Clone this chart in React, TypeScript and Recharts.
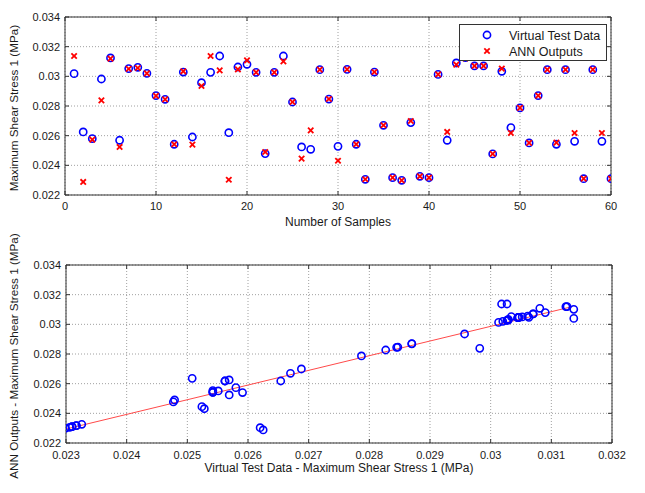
import React from 'react';
import {
  ScatterChart,
  Scatter,
  XAxis,
  YAxis,
  CartesianGrid,
  ReferenceArea,
  ReferenceLine,
  Label,
} from 'recharts';

// ---------- data ----------
const sampleNumbers = [
  1, 2, 3, 4, 5, 6, 7, 8, 9, 10, 11, 12, 13, 14, 15, 16, 17, 18, 19, 20,
  21, 22, 23, 24, 25, 26, 27, 28, 29, 30, 31, 32, 33, 34, 35, 36, 37, 38, 39, 40,
  41, 42, 43, 44, 45, 46, 47, 48, 49, 50, 51, 52, 53, 54, 55, 56, 57, 58, 59, 60,
];

const virtualTestData = [
  0.03018, 0.02625, 0.0258, 0.02982, 0.03124, 0.02569, 0.03052, 0.03061, 0.0302, 0.0287,
  0.02845, 0.02542, 0.03029, 0.02591, 0.02957, 0.03027, 0.03137, 0.0262, 0.03063, 0.03081,
  0.03027, 0.02479, 0.03027, 0.03137, 0.02827, 0.02524, 0.02508, 0.03045, 0.02847, 0.02528,
  0.03047, 0.02542, 0.02306, 0.03029, 0.0267, 0.02317, 0.02299, 0.02688, 0.02326, 0.02317,
  0.03013, 0.02569, 0.0309, 0.03126, 0.0307, 0.0307, 0.02477, 0.03034, 0.02654, 0.02787,
  0.02551, 0.0287, 0.03045, 0.02542, 0.03045, 0.02562, 0.0231, 0.03045, 0.02562, 0.0231,
];

const annOutputs = [
  0.03137, 0.02288, 0.02573, 0.02838, 0.03119, 0.02524, 0.0305, 0.03056, 0.0302, 0.02868,
  0.02845, 0.02542, 0.03034, 0.0254, 0.02935, 0.03137, 0.0304, 0.02303, 0.03047, 0.03108,
  0.03027, 0.0249, 0.03027, 0.03101, 0.02827, 0.02445, 0.02636, 0.03045, 0.02847, 0.02431,
  0.03047, 0.02542, 0.02306, 0.03029, 0.0267, 0.02317, 0.02299, 0.02699, 0.02326, 0.02317,
  0.03013, 0.02625, 0.03079, 0.0312, 0.0307, 0.0307, 0.02477, 0.03052, 0.02618, 0.02787,
  0.02551, 0.0287, 0.03045, 0.02553, 0.03045, 0.02618, 0.0231, 0.03045, 0.02618, 0.0231,
];

const sampleTicks = [0, 10, 20, 30, 40, 50, 60];
const stressTicks = [0.022, 0.024, 0.026, 0.028, 0.03, 0.032, 0.034];
const virtualTicks = [0.023, 0.024, 0.025, 0.026, 0.027, 0.028, 0.029, 0.03, 0.031, 0.032];

const fitLineX = [0.023, 0.03135];
const fitLineY = [0.02294, 0.0312];

const legendLabels = ['Virtual Test Data', 'ANN Outputs'];
const topXTitle = 'Number of Samples';
const topYTitle = 'Maximum Shear Stress 1 (MPa)';
const bottomXTitle = 'Virtual Test Data - Maximum Shear Stress 1 (MPa)';
const bottomYTitle = 'ANN Outputs - Maximum Shear Stress 1 (MPa)';

// ---------- derived tables ----------
const virtualSeries = sampleNumbers.map((n, i) => ({ n, v: virtualTestData[i] }));
const annSeries = sampleNumbers.map((n, i) => ({ n, v: annOutputs[i] }));
const pairSeries = virtualTestData.map((v, i) => ({ x: v, y: annOutputs[i] }));

// ---------- styling helpers ----------
const FONT = '"Liberation Sans", Arial, Helvetica, sans-serif';
const AXIS = '#333';
const TEXT = '#1a1a1a';
const PLOT_W = 546;
const PLOT_H = 178;

const fmt = (v: number) => String(Number(v.toPrecision(6)));

const CircleMark = (p: any) => (
  <circle cx={p.cx} cy={p.cy} r={3.6} fill="none" stroke="#0000ff" strokeWidth={1.6} />
);

const CrossMark = (p: any) => {
  const s = 2.7;
  return (
    <g stroke="#ff0000" strokeWidth={1.8}>
      <line x1={p.cx - s} y1={p.cy - s} x2={p.cx + s} y2={p.cy + s} />
      <line x1={p.cx - s} y1={p.cy + s} x2={p.cx + s} y2={p.cy - s} />
    </g>
  );
};

const makeXTick = (dy: number) => (p: any) => {
  const { x, y, payload } = p;
  return (
    <g>
      <line x1={x} x2={x} y1={y} y2={y - 4} stroke={AXIS} />
      <line x1={x} x2={x} y1={y - PLOT_H} y2={y - PLOT_H + 4} stroke={AXIS} />
      <text x={x} y={y + dy} textAnchor="middle" fontSize={11} fill={TEXT} fontFamily={FONT}>
        {fmt(payload.value)}
      </text>
    </g>
  );
};

const YTick = (p: any) => {
  const { x, y, payload } = p;
  return (
    <g>
      <line x1={x} x2={x + 4} y1={y} y2={y} stroke={AXIS} />
      <line x1={x + PLOT_W} x2={x + PLOT_W - 4} y1={y} y2={y} stroke={AXIS} />
      <text x={x - 5} y={y + 4} textAnchor="end" fontSize={11} fill={TEXT} fontFamily={FONT}>
        {fmt(payload.value)}
      </text>
    </g>
  );
};

const hTitle = (text: string, cx: number, baseline: number) => () => (
  <text x={cx} y={baseline} textAnchor="middle" fontSize={12} fill={TEXT} fontFamily={FONT}>
    {text}
  </text>
);

const vTitle = (text: string, cx: number, cy: number) => () => (
  <text
    x={cx}
    y={cy}
    textAnchor="middle"
    fontSize={11.7}
    fill={TEXT}
    fontFamily={FONT}
    transform={`rotate(-90 ${cx} ${cy})`}
  >
    {text}
  </text>
);

export default function App() {
  return (
    <div
      style={{
        position: 'absolute',
        left: 0,
        top: 0,
        width: 645,
        height: 493,
        background: '#fff',
        fontFamily: FONT,
      }}
    >
      {/* Top chart */}
      <div style={{ position: 'absolute', left: 0, top: 0 }}>
        <ScatterChart width={645} height={240} margin={{ top: 17, right: 34, bottom: 10, left: 15 }}>
          <CartesianGrid stroke="#888" strokeDasharray="1 2" strokeWidth={0.8} />
          <XAxis
            type="number"
            dataKey="n"
            domain={[0, 60]}
            ticks={sampleTicks}
            allowDataOverflow
            height={35}
            tickSize={0}
            tickMargin={0}
            tickLine={false}
            axisLine={false}
            tick={makeXTick(15)}
            interval={0}
          >
            <Label content={hTitle(topXTitle, 338, 226)} />
          </XAxis>
          <YAxis
            type="number"
            dataKey="v"
            domain={[0.022, 0.034]}
            ticks={stressTicks}
            allowDataOverflow
            width={50}
            tickSize={0}
            tickMargin={0}
            tickLine={false}
            axisLine={false}
            tick={YTick}
            interval={0}
          >
            <Label content={vTitle(topYTitle, 18, 108)} />
          </YAxis>
          <ReferenceArea x1={0} x2={60} y1={0.022} y2={0.034} fill="none" stroke={AXIS} strokeWidth={1} />
          <Scatter data={virtualSeries} shape={CircleMark} isAnimationActive={false} />
          <Scatter data={annSeries} shape={CrossMark} isAnimationActive={false} />
        </ScatterChart>
      </div>

      {/* Legend */}
      <div
        style={{
          position: 'absolute',
          left: 459,
          top: 24,
          width: 146,
          height: 35,
          border: '1px solid #333',
          background: '#fff',
          fontSize: 12.5,
          color: TEXT,
        }}
      >
        <svg width={146} height={35} style={{ position: 'absolute', left: 0, top: 0 }}>
          <circle cx={27} cy={10} r={3.6} fill="none" stroke="#0000ff" strokeWidth={1.6} />
          <g stroke="#ff0000" strokeWidth={1.8}>
            <line x1={24.3} y1={23.3} x2={29.7} y2={28.7} />
            <line x1={24.3} y1={28.7} x2={29.7} y2={23.3} />
          </g>
          <text x={49} y={14.5} fontSize={12.5} fill={TEXT} fontFamily={FONT}>
            {legendLabels[0]}
          </text>
          <text x={49} y={30.5} fontSize={12.5} fill={TEXT} fontFamily={FONT}>
            {legendLabels[1]}
          </text>
        </svg>
      </div>

      {/* Bottom chart */}
      <div style={{ position: 'absolute', left: 0, top: 220 }}>
        <ScatterChart width={645} height={273} margin={{ top: 45, right: 33, bottom: 15, left: 16 }}>
          <CartesianGrid stroke="#888" strokeDasharray="1 2" strokeWidth={0.8} />
          <XAxis
            type="number"
            dataKey="x"
            domain={[0.023, 0.032]}
            ticks={virtualTicks}
            allowDataOverflow
            height={35}
            tickSize={0}
            tickMargin={0}
            tickLine={false}
            axisLine={false}
            tick={makeXTick(16)}
            interval={0}
          >
            <Label content={hTitle(bottomXTitle, 339, 252)} />
          </XAxis>
          <YAxis
            type="number"
            dataKey="y"
            domain={[0.022, 0.034]}
            ticks={stressTicks}
            allowDataOverflow
            width={50}
            tickSize={0}
            tickMargin={0}
            tickLine={false}
            axisLine={false}
            tick={YTick}
            interval={0}
          >
            <Label content={vTitle(bottomYTitle, 18, 136)} />
          </YAxis>
          <ReferenceArea x1={0.023} x2={0.032} y1={0.022} y2={0.034} fill="none" stroke={AXIS} strokeWidth={1} />
          <ReferenceLine
            segment={[
              { x: fitLineX[0], y: fitLineY[0] },
              { x: fitLineX[1], y: fitLineY[1] },
            ]}
            stroke="#ff4a4a"
            strokeWidth={1}
          />
          <Scatter data={pairSeries} shape={CircleMark} isAnimationActive={false} />
        </ScatterChart>
      </div>
    </div>
  );
}
